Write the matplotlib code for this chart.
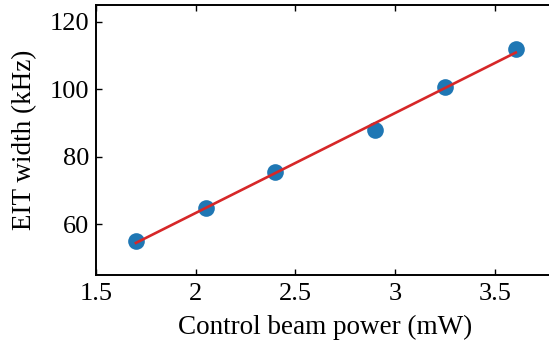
import matplotlib
matplotlib.use("Agg")
import matplotlib.pyplot as plt

# EIT width vs control beam power
power_mw = [1.70, 2.05, 2.40, 2.90, 3.25, 3.605]
eit_width_khz = [55.1, 64.8, 75.4, 87.9, 100.6, 112.0]

# linear fit line end points
fit_power = [1.70, 3.605]
fit_width = [54.5, 110.9]

x_ticks = [1.5, 2, 2.5, 3, 3.5]
x_tick_labels = ["1.5", "2", "2.5", "3", "3.5"]
y_ticks = [60, 80, 100, 120]


def main():
    plt.rcParams.update(
        {
            "font.family": "serif",
            "font.serif": ["Liberation Serif", "DejaVu Serif"],
            "font.size": 19,
        }
    )

    fig = plt.figure(figsize=(5.49, 3.44), dpi=100)
    # right edge of the box falls just outside the picture, as in the reference
    ax = fig.add_axes([0.1749, 0.2006, 0.8354, 0.785])

    ax.plot(power_mw, eit_width_khz, "o", color="#1f77b4", markersize=12,
            markeredgewidth=0, zorder=2)
    ax.plot(fit_power, fit_width, "-", color="#d62728", linewidth=1.9, zorder=3)

    ax.set_xlim(1.5, 3.8)
    ax.set_ylim(45, 125)
    ax.set_xticks(x_ticks)
    ax.set_xticklabels(x_tick_labels)
    ax.set_yticks(y_ticks)

    ax.tick_params(direction="in", length=4, width=1.0, top=True, right=False,
                   labelsize=19)
    ax.tick_params(axis="x", pad=6)
    ax.tick_params(axis="y", pad=5)
    for spine in ax.spines.values():
        spine.set_linewidth(1.4)
    ax.spines["right"].set_visible(False)

    ax.set_xlabel("Control beam power (mW)", fontsize=19.5, labelpad=7)
    ax.set_ylabel("EIT width (kHz)", fontsize=19.5, labelpad=9)

    fig.savefig("out.png", dpi=100)
    plt.close(fig)


if __name__ == "__main__":
    main()
